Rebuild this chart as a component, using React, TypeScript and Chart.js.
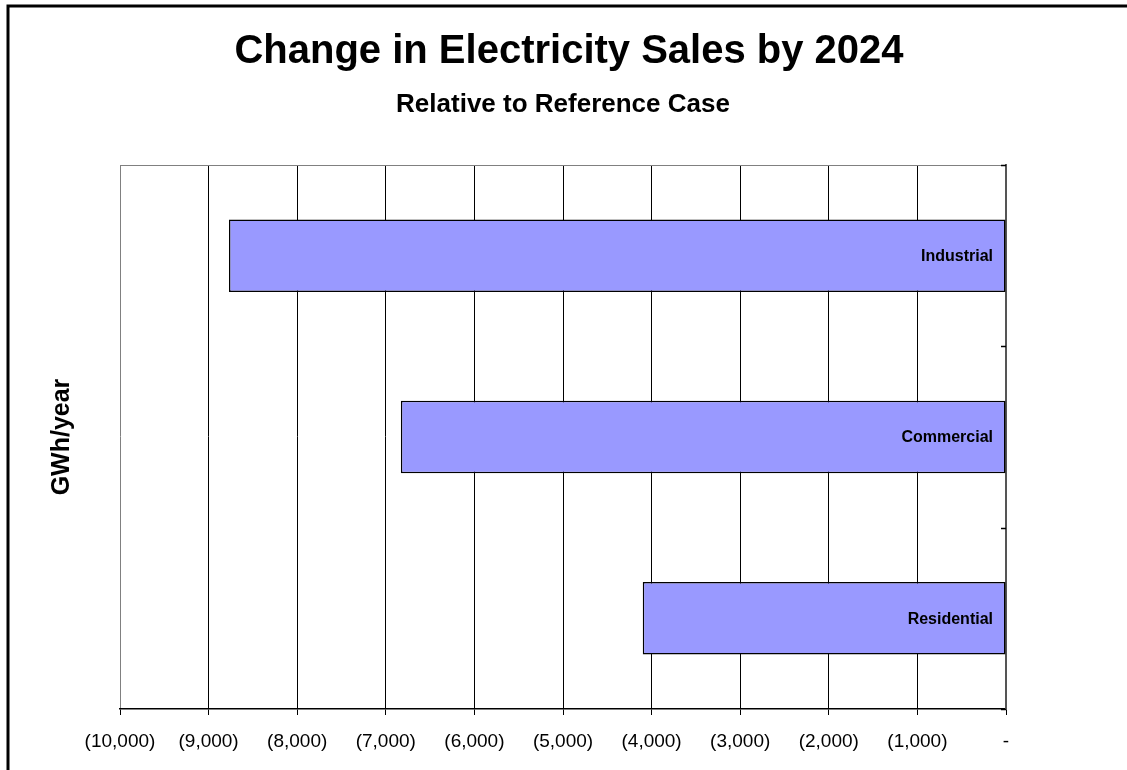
import React, { useEffect, useRef } from "react";
import { Chart, registerables } from "chart.js";

Chart.register(...registerables);

const categories = ["Industrial", "Commercial", "Residential"];
const salesChange = [-8770, -6830, -4100];
const xMin = -10000;
const xMax = 0;
const xStep = 1000;
const titleText = "Change in Electricity Sales by 2024";
const subtitleText = "Relative to Reference Case";
const axisTitleText = "GWh/year";

const FONT = "Arial, 'Liberation Sans', sans-serif";

function fmtTick(v: number): string {
  if (v === 0) return "-";
  const s = Math.abs(v).toLocaleString("en-US");
  return v < 0 ? `(${s})` : s;
}

const decorPlugin = {
  id: "decor",
  afterDraw(chart: any) {
    const { ctx, chartArea, width, height } = chart;
    const xs = chart.scales.x;
    const ys = chart.scales.y;
    ctx.save();
    // outer border (cut off on right/bottom)
    ctx.strokeStyle = "#000";
    ctx.lineWidth = 3;
    ctx.beginPath();
    ctx.moveTo(8, height + 5);
    ctx.lineTo(8, 6);
    ctx.lineTo(width + 5, 6);
    ctx.stroke();

    // plot area top border
    ctx.strokeStyle = "#808080";
    ctx.lineWidth = 1;
    ctx.beginPath();
    ctx.moveTo(chartArea.left, Math.round(chartArea.top) + 0.5);
    ctx.lineTo(chartArea.right, Math.round(chartArea.top) + 0.5);
    ctx.stroke();

    // inward tick marks on right category axis
    ctx.strokeStyle = "#000";
    ctx.lineWidth = 1.5;
    for (let i = 0; i <= categories.length; i++) {
      const y = ys.getPixelForValue(i - 0.5);
      ctx.beginPath();
      ctx.moveTo(chartArea.right - 5, Math.round(y) + 0.5);
      ctx.lineTo(chartArea.right, Math.round(y) + 0.5);
      ctx.stroke();
    }

    // bar labels
    ctx.fillStyle = "#000";
    ctx.font = `bold 16px ${FONT}`;
    ctx.textAlign = "right";
    ctx.textBaseline = "middle";
    const meta = chart.getDatasetMeta(0);
    meta.data.forEach((bar: any, i: number) => {
      ctx.fillText(categories[i], xs.getPixelForValue(0) - 13, bar.y + 1);
    });

    // titles
    const cx = (chartArea.left + chartArea.right) / 2 + 4;
    ctx.textAlign = "center";
    ctx.font = `bold 40px ${FONT}`;
    ctx.fillText(titleText, cx + 2, 52);
    ctx.font = `bold 26px ${FONT}`;
    ctx.fillText(subtitleText, cx - 4, 105);

    // axis title
    ctx.translate(62, (chartArea.top + chartArea.bottom) / 2);
    ctx.rotate(-Math.PI / 2);
    ctx.font = `bold 25px ${FONT}`;
    ctx.fillText(axisTitleText, 0, 0);
    ctx.restore();
  },
};

export default function App() {
  const ref = useRef<HTMLCanvasElement>(null);
  useEffect(() => {
    if (!ref.current) return;
    const chart = new Chart(ref.current, {
      type: "bar",
      data: {
        labels: categories,
        datasets: [
          {
            data: salesChange,
            backgroundColor: "#9999FF",
            borderColor: "#000",
            borderWidth: 1.5,
            borderSkipped: false,
            barPercentage: 0.4,
            categoryPercentage: 1,
          },
        ],
      },
      options: {
        indexAxis: "y",
        animation: false,
        responsive: false,
        devicePixelRatio: 1,
        layout: { padding: { left: 120, right: 121, top: 165, bottom: 11 } },
        plugins: {
          legend: { display: false },
          tooltip: { enabled: false },
          title: { display: false },
        },
        scales: {
          x: {
            type: "linear",
            min: xMin,
            max: xMax,
            ticks: {
              stepSize: xStep,
              callback: (v: any) => fmtTick(Number(v)),
              color: "#000",
              font: { family: FONT, size: 19 },
              padding: 15,
              maxRotation: 0,
              autoSkip: false,
            },
            grid: {
              color: (c: any) => (c.tick && c.tick.value === xMin ? "#808080" : "#000"),
              lineWidth: 1,
              tickLength: 6,
              tickColor: "#000",
            },
            border: { display: true, color: "#000", width: 1.5 },
            afterFit: (s: any) => {
              s.height = 50;
            },
          },
          y: {
            position: "right",
            ticks: { display: false },
            grid: { display: false },
            border: { display: true, color: "#555", width: 2 },
            afterFit: (s: any) => {
              s.width = 0;
            },
          },
        },
      },
      plugins: [decorPlugin],
    } as any);
    return () => chart.destroy();
  }, []);
  return (
    <canvas
      ref={ref}
      width={1127}
      height={770}
      style={{ position: "fixed", left: 0, top: 0, width: 1127, height: 770, background: "#fff" }}
    />
  );
}
